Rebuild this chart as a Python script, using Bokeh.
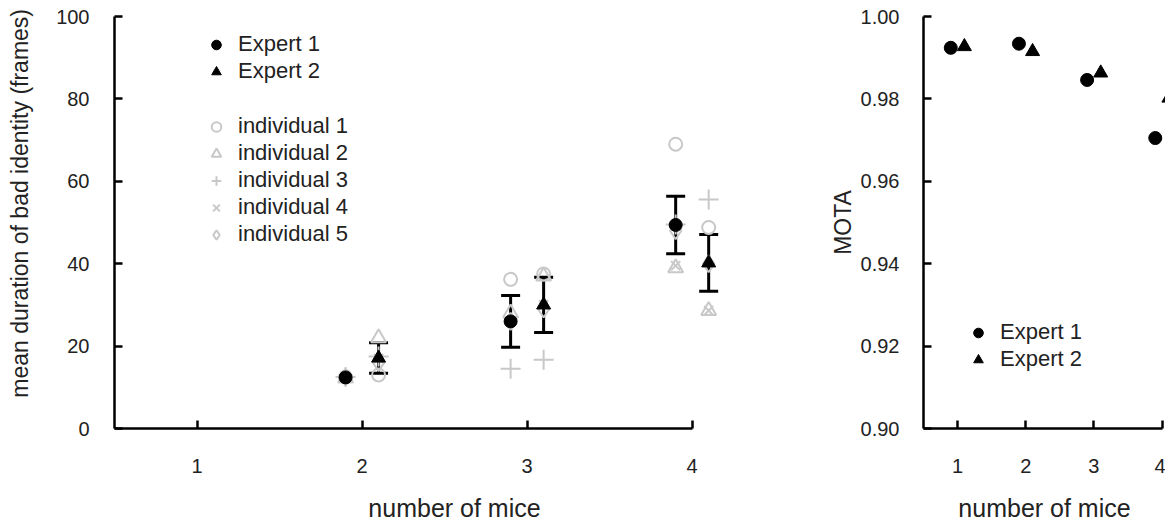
import numpy as np
from bokeh.plotting import figure
from bokeh.models import (ColumnDataSource, Whisker, TeeHead, Legend, LegendItem,
                          FixedTicker, Range1d, PrintfTickFormatter)
from bokeh.layouts import row
from bokeh.embed import file_html
from bokeh.resources import INLINE

# ---------------- data ----------------
mice = [2, 3, 4]
expert1_mean = [12.4, 26.0, 49.4]
expert1_err = [0.0, 6.3, 7.0]
expert2_mean = [17.1, 30.0, 40.2]
expert2_err = [3.7, 6.7, 6.9]

# individuals, compared with expert 1 (left of each tick)
ind1_e1 = [12.5, 36.2, 69.0]
ind2_e1 = [12.2, 28.0, 39.0]
ind3_e1 = [12.5, 14.5, 49.5]
ind4_e1 = [12.5, 26.0, 39.5]
ind5_e1 = [12.5, 26.0, 48.0]
# individuals, compared with expert 2 (right of each tick)
ind1_e2 = [13.0, 37.5, 48.8]
ind2_e2 = [22.0, 37.0, 28.6]
ind3_e2 = [17.5, 16.7, 55.6]
ind4_e2 = [17.0, 30.0, 28.6]
ind5_e2 = [16.0, 29.0, 40.0]

mota_mice = [1, 2, 3, 4]
mota_expert1 = [0.9924, 0.9934, 0.9846, 0.9705]
mota_expert2 = [0.9927, 0.9915, 0.9863, 0.9802]

left_yticks = [0, 20, 40, 60, 80, 100]
right_yticks = [0.90, 0.92, 0.94, 0.96, 0.98, 1.00]
xticks = [1, 2, 3, 4]

# ---------------- style ----------------
FONT = "Liberation Sans"
TXT = "#222222"
GRAY = "#c8c8c8"
OFF = 0.1
NBSP = "\u00a0"


def style(p, ybounds):
    p.outline_line_color = None
    p.xgrid.visible = False
    p.ygrid.visible = False
    for ax in (p.xaxis[0], p.yaxis[0]):
        ax.axis_line_width = 2.5
        ax.axis_line_color = "black"
        ax.major_tick_line_width = 2.5
        ax.major_tick_line_color = "black"
        ax.major_tick_in = 8
        ax.major_tick_out = 0
        ax.minor_tick_line_color = None
        ax.major_label_text_font = FONT
        ax.major_label_text_font_size = "20px"
        ax.major_label_text_color = TXT
        ax.axis_label_text_font = FONT
        ax.axis_label_text_font_size = "23px"
        ax.axis_label_text_font_style = "normal"
        ax.axis_label_text_color = TXT
    p.xaxis.axis_label_text_font_size = "25px"
    p.xaxis.ticker = FixedTicker(ticks=xticks)
    p.xaxis.bounds = (0.5, 4)
    p.yaxis.bounds = ybounds
    p.xaxis.major_label_standoff = 30
    p.xaxis.axis_label_standoff = 18
    p.xaxis.axis_label = "number of mice"


def legend(items, loc):
    return Legend(items=items, location=loc, border_line_color=None,
                  background_fill_alpha=0, padding=0, margin=0, spacing=0,
                  glyph_width=24, glyph_height=27, label_height=27,
                  label_standoff=10, label_text_font=FONT,
                  label_text_font_size="22px", label_text_color=TXT)


# ---------------- left chart ----------------
p1 = figure(width=826, height=526, x_range=Range1d(0.5, 4.62), y_range=Range1d(0, 100),
            output_backend="svg", toolbar_location=None,
            min_border_left=114, min_border_right=32, min_border_top=16, min_border_bottom=98)
style(p1, (0, 100))
p1.yaxis.ticker = FixedTicker(ticks=left_yticks)
p1.yaxis.major_label_standoff = 25
p1.yaxis.axis_label_standoff = 20
p1.yaxis.axis_label = NBSP * 6 + "mean duration of bad identity (frames)"

m = np.array(mice, dtype=float)
x1 = m - OFF
x2 = m + OFF

ind_specs = [
    ("individual 1", "circle", 13, ind1_e1, ind1_e2),
    ("individual 2", "triangle", 15, ind2_e1, ind2_e2),
    ("individual 3", "cross", 20, ind3_e1, ind3_e2),
    ("individual 4", "x", 13, ind4_e1, ind4_e2),
    ("individual 5", "diamond", 17, ind5_e1, ind5_e2),
]
ind_items = []
for label, marker, size, v1, v2 in ind_specs:
    r = p1.scatter(np.concatenate([x1, x2]), np.concatenate([v1, v2]), marker=marker,
                   size=size, fill_color=None, line_color=GRAY, line_width=2)
    ind_items.append(LegendItem(label=label, renderers=[r]))

for xs, mean, err in ((x1, expert1_mean, expert1_err), (x2, expert2_mean, expert2_err)):
    mean = np.array(mean)
    err = np.array(err)
    keep = err > 0
    src = ColumnDataSource(dict(x=xs[keep], lower=(mean - err)[keep], upper=(mean + err)[keep]))
    w = Whisker(source=src, base="x", lower="lower", upper="upper", dimension="height",
                line_color="black", line_width=3,
                upper_head=TeeHead(size=19, line_color="black", line_width=3),
                lower_head=TeeHead(size=19, line_color="black", line_width=3))
    p1.add_layout(w)

r_e1 = p1.scatter(x1, expert1_mean, marker="circle", size=13, color="black")
r_e2 = p1.scatter(x2, expert2_mean, marker="triangle", size=14, color="black")

p1.add_layout(legend([LegendItem(label="Expert 1", renderers=[r_e1]),
                      LegendItem(label="Expert 2", renderers=[r_e2])], (90, 343.5)))
p1.add_layout(legend(ind_items, (90, 180.5)))

# ---------------- right chart ----------------
p2 = figure(width=339, height=526, x_range=Range1d(0.5, 4.05), y_range=Range1d(0.9, 1.0),
            output_backend="svg", toolbar_location=None,
            min_border_left=94, min_border_right=0, min_border_top=16, min_border_bottom=98)
style(p2, (0.9, 1.0))
p2.yaxis.ticker = FixedTicker(ticks=right_yticks)
p2.yaxis.formatter = PrintfTickFormatter(format="%.2f")
p2.yaxis.major_label_standoff = 24
p2.yaxis.axis_label_standoff = 2
p2.yaxis.axis_label = "MOTA"

mm = np.array(mota_mice, dtype=float)
q1 = p2.scatter(mm - OFF, mota_expert1, marker="circle", size=13, color="black")
q2 = p2.scatter(mm + OFF, mota_expert2, marker="triangle", size=14, color="black")
p2.add_layout(legend([LegendItem(label="Expert 1", renderers=[q1]),
                      LegendItem(label="Expert 2", renderers=[q2])], (43, 55.5)))

layout = row(p1, p2)
open("out.html", "w").write(file_html(layout, INLINE))
